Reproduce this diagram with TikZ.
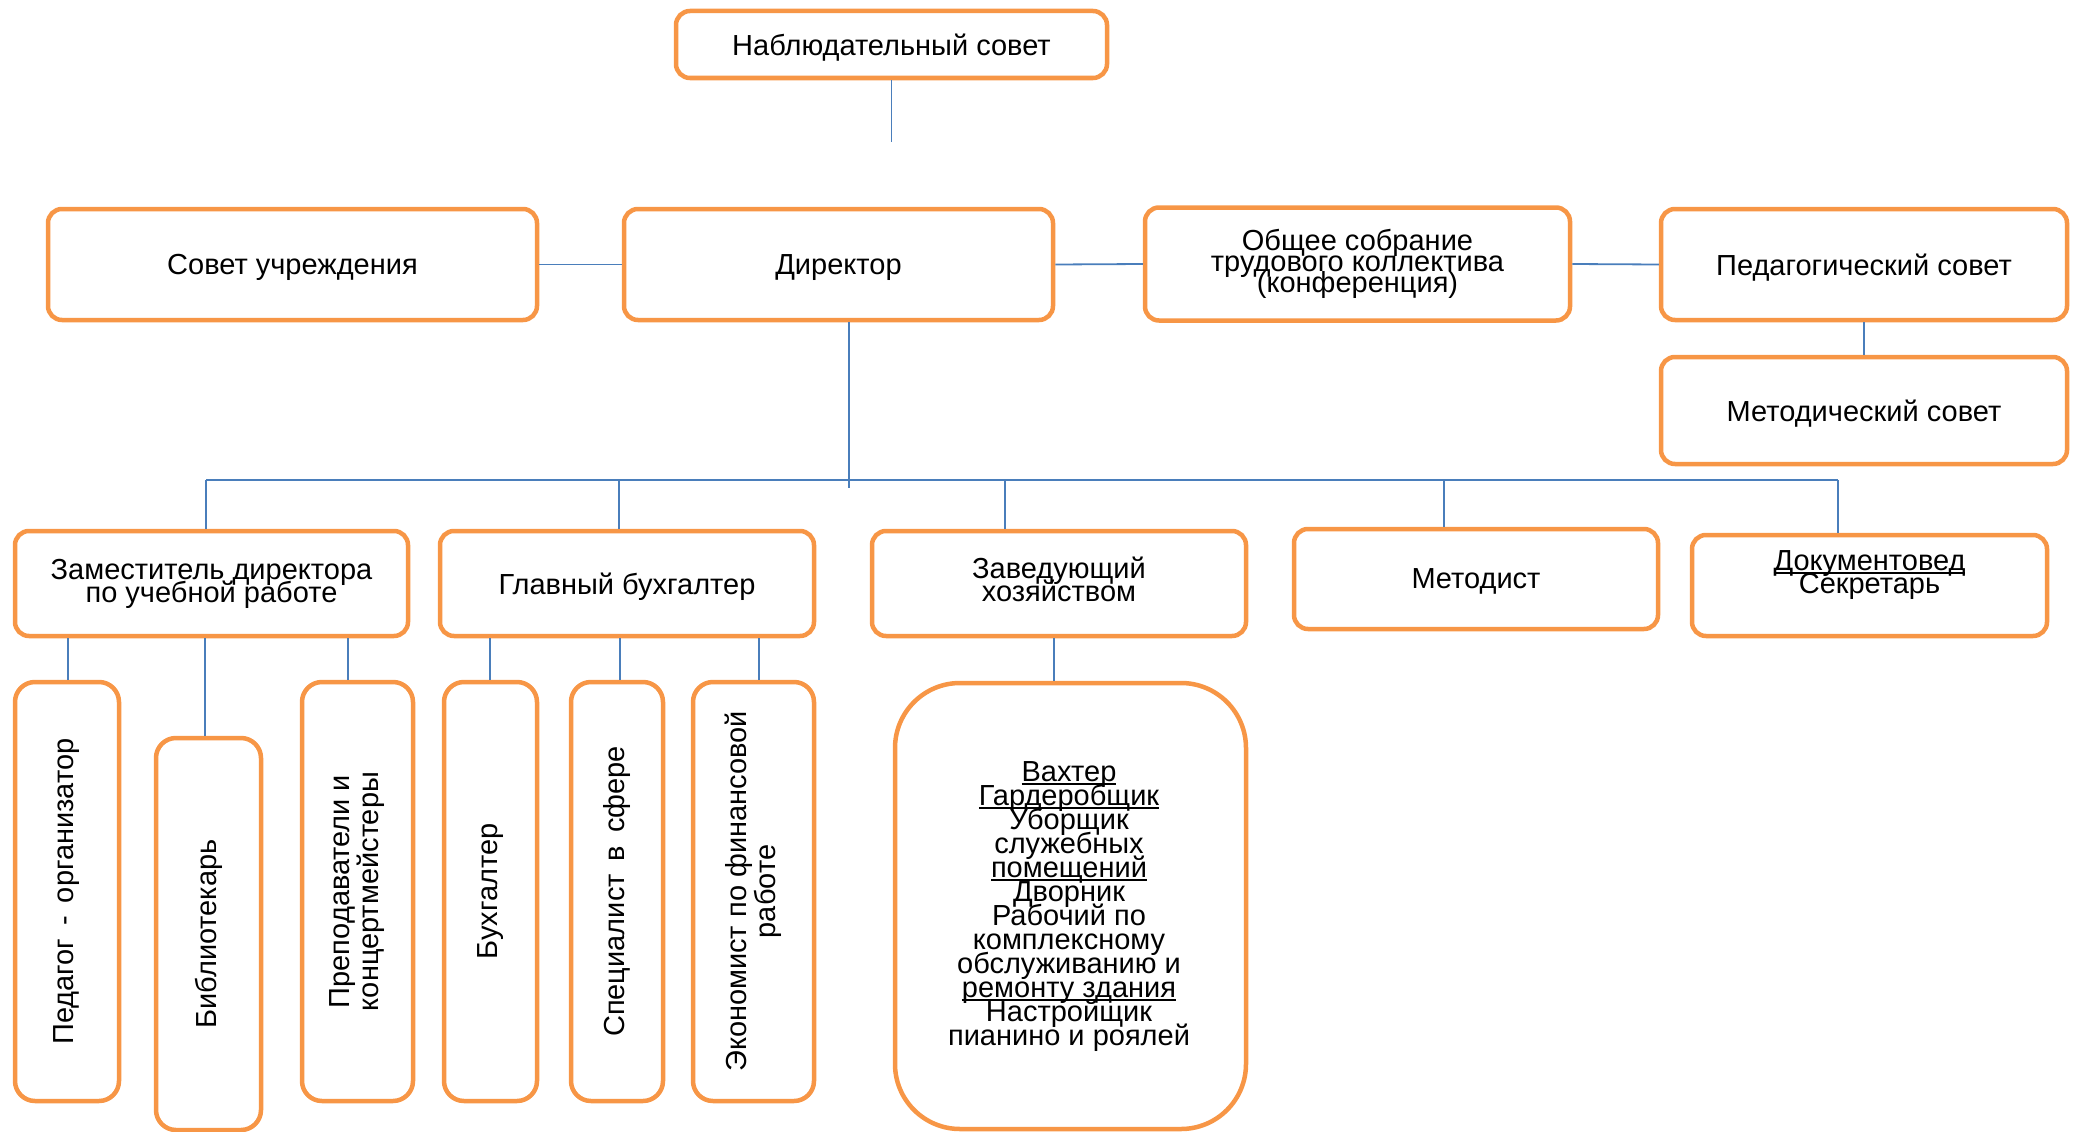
\documentclass[tikz,border=0pt]{standalone}
\usepackage{fontspec}
\setmainfont{Liberation Sans}
\definecolor{borange}{HTML}{F79646}
\definecolor{lblue}{HTML}{4A7EBB}
\newcommand\myfsz[2]{\fontsize{#1}{#2}\selectfont\lineskiplimit=-100pt\relax}
\newcommand\myul[1]{{\setbox0=\hbox{#1}\rlap{\rule[-3.5pt]{\wd0}{2pt}}\box0}}
\tikzset{
  box/.style={draw=borange, line width=4.5pt, rounded corners=14pt, fill=white, inner sep=0pt,
    align=center, font=\myfsz{29}{23}},
  onebox/.style={box, text depth=0pt},
  vbox/.style={box, rounded corners=20pt},
  bigbox/.style={box, rounded corners=65pt},
  vtxt/.style={rotate=90, align=center, inner sep=0pt, font=\myfsz{29}{29}},
  btxt/.style={align=center, inner sep=0pt, font=\myfsz{29}{24}},
  conn/.style={draw=lblue, line width=1.8pt},
}
\begin{document}
\begin{tikzpicture}[x=1pt,y=-1pt]
\useasboundingbox (0,0) rectangle (2080,1132);
% top
\node[onebox, minimum width=431pt, minimum height=67pt] (nab) at (891.5,44.5) {Наблюдательный совет};
\coordinate (nt) at (891.5,142);
% row 2
\node[onebox, minimum width=489pt, minimum height=111pt] (sov) at (292.5,264.5) {Совет учреждения};
\node[onebox, minimum width=429pt, minimum height=111pt] (dir) at (838.5,264.5) {Директор};
\node[box, minimum width=425pt, minimum height=113pt, font=\myfsz{29}{21}] (obs) at (1357.5,264)
  {Общее собрание\\трудового коллектива\\(конференция)};
\node[onebox, minimum width=406pt, minimum height=111pt] (ped) at (1864,264.5) {Педагогический совет};
\node[onebox, minimum width=406pt, minimum height=107pt] (met) at (1864,410.5) {Методический совет};
% row 3
\node[box, minimum width=393pt, minimum height=105pt] (zam) at (211.5,583.5) {Заместитель директора\\по учебной работе};
\node[onebox, minimum width=374pt, minimum height=105pt] (glb) at (627,583.5) {Главный бухгалтер};
\node[box, minimum width=374pt, minimum height=105pt] (zav) at (1059,583.5) {};
\node[btxt, font=\myfsz{29}{23}] (zavt) at (1059,579) {Заведующий\\хозяйством};
\node[onebox, minimum width=364pt, minimum height=100pt] (metd) at (1476,579) {Методист};
\node[box, minimum width=355pt, minimum height=101pt] (doc) at (1869.5,585.5) {};
\node[btxt, font=\myfsz{29}{23}] (doct) at (1869.5,575) {\myul{Документовед}\\Секретарь};
% row 4
\node[vbox, minimum width=104pt, minimum height=419pt] (po) at (67,891.5) {};
\node[vtxt] (pot) at (po) {Педагог \,-\, организатор};
\node[vbox, minimum width=105pt, minimum height=392pt] (bib) at (208.5,934) {};
\node[vtxt] (bibt) at (bib) {Библиотекарь};
\node[vbox, minimum width=111pt, minimum height=419pt] (prep) at (357.5,891.5) {};
\node[vtxt] (prept) at (prep) {Преподаватели и\\концертмейстеры};
\node[vbox, minimum width=93pt, minimum height=419pt] (bux) at (490.5,891.5) {};
\node[vtxt] (buxt) at (bux) {Бухгалтер};
\node[vbox, minimum width=92pt, minimum height=419pt] (spec) at (617,891.5) {};
\node[vtxt] (spect) at (spec) {Специалист \,в\, сфере};
\node[vbox, minimum width=121pt, minimum height=419pt] (eko) at (753.5,891.5) {};
\node[vtxt] (ekot) at (eko) {Экономист по финансовой\\работе};
\node[bigbox, minimum width=351pt, minimum height=446pt] (big) at (1070.5,906) {};
\node[btxt] (bigt) at (1069,907) {\myul{Вахтер}\\\myul{Гардеробщик}\\Уборщик\\служебных\\\myul{помещений}\\Дворник\\Рабочий по\\комплексному\\обслуживанию и\\\myul{ремонту здания}\\Настройщик\\пианино и роялей};
% connectors
\draw[conn] (nab.south) -- (nt);
\draw[conn] (sov.east) -- (dir.west);
\draw[conn] (dir.east) -- (obs.west);
\draw[conn] (obs.east) -- (ped.west);
\draw[conn] (ped.south) -- (met.north);
\coordinate (dend) at (849,488);
\draw[conn] (dir.south -| dend) -- (dend);
\coordinate (b1) at (206,480);
\coordinate (b2) at (619,480);
\coordinate (b3) at (1005,480);
\coordinate (b4) at (1444,480);
\coordinate (b5) at (1838,480);
\draw[conn] (b1) -- (b5);
\draw[conn] (b1) -- (b1 |- zam.north);
\draw[conn] (b2) -- (b2 |- glb.north);
\draw[conn] (b3) -- (b3 |- zav.north);
\draw[conn] (b4) -- (b4 |- metd.north);
\draw[conn] (b5) -- (b5 |- doc.north);
\coordinate (k1) at (68,0);
\coordinate (k2) at (205,0);
\coordinate (k3) at (348,0);
\coordinate (k4) at (490,0);
\coordinate (k5) at (620,0);
\coordinate (k6) at (759,0);
\coordinate (k7) at (1054,0);
\draw[conn] (zam.south -| k1) -- (po.north -| k1);
\draw[conn] (zam.south -| k2) -- (bib.north -| k2);
\draw[conn] (zam.south -| k3) -- (prep.north -| k3);
\draw[conn] (glb.south -| k4) -- (bux.north -| k4);
\draw[conn] (glb.south -| k5) -- (spec.north -| k5);
\draw[conn] (glb.south -| k6) -- (eko.north -| k6);
\draw[conn] (zav.south -| k7) -- (big.north -| k7);
\end{tikzpicture}
\end{document}
